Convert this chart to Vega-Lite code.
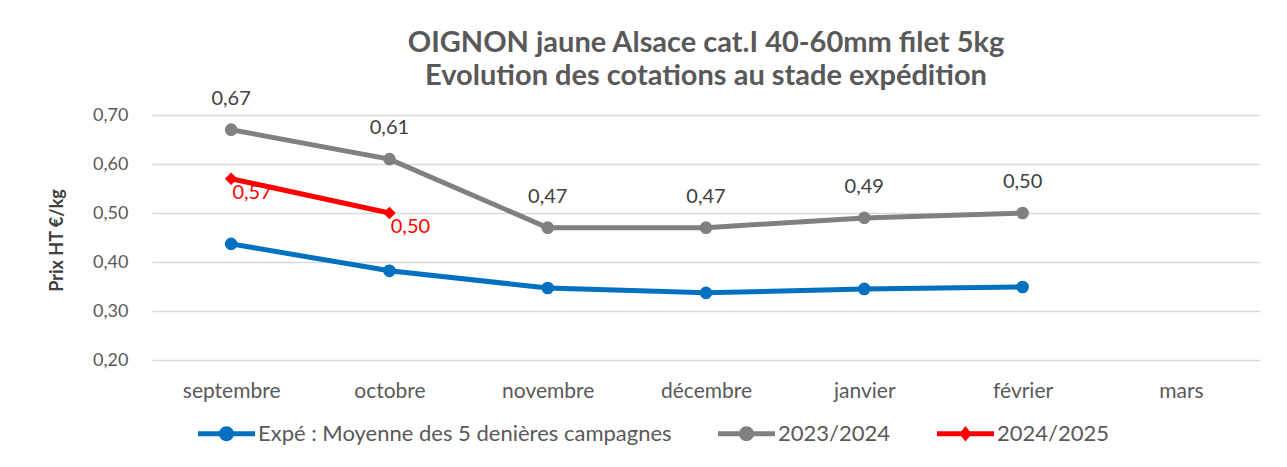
{
  "$schema": "https://vega.github.io/schema/vega-lite/v6.json",
  "width": 1108,
  "height": 245,
  "autosize": {"type": "none"},
  "padding": {"left": 152, "top": 115, "right": 27, "bottom": 107},
  "background": "white",
  "config": {
    "font": "Lato",
    "view": {"stroke": null},
    "locale": {"number": {"decimal": ",", "thousands": "\u00a0", "grouping": [3], "currency": ["", " €"]}}
  },
  "title": {
    "text": ["OIGNON jaune Alsace cat.I 40-60mm filet 5kg", "Evolution des cotations au stade expédition"],
    "fontSize": 29,
    "fontWeight": "bold",
    "color": "#595959",
    "anchor": "middle",
    "lineHeight": 33,
    "offset": -2
  },
  "resolve": {"legend": {"color": "independent", "shape": "independent"}},
  "data": {
    "values": [
      {"mois": "septembre", "serie": "Expé : Moyenne des 5 denières campagnes", "prix": 0.437},
      {"mois": "octobre", "serie": "Expé : Moyenne des 5 denières campagnes", "prix": 0.382},
      {"mois": "novembre", "serie": "Expé : Moyenne des 5 denières campagnes", "prix": 0.347},
      {"mois": "décembre", "serie": "Expé : Moyenne des 5 denières campagnes", "prix": 0.337},
      {"mois": "janvier", "serie": "Expé : Moyenne des 5 denières campagnes", "prix": 0.345},
      {"mois": "février", "serie": "Expé : Moyenne des 5 denières campagnes", "prix": 0.349},
      {"mois": "septembre", "serie": "2023/2024", "prix": 0.67},
      {"mois": "octobre", "serie": "2023/2024", "prix": 0.61},
      {"mois": "novembre", "serie": "2023/2024", "prix": 0.47},
      {"mois": "décembre", "serie": "2023/2024", "prix": 0.47},
      {"mois": "janvier", "serie": "2023/2024", "prix": 0.49},
      {"mois": "février", "serie": "2023/2024", "prix": 0.50},
      {"mois": "septembre", "serie": "2024/2025", "prix": 0.57},
      {"mois": "octobre", "serie": "2024/2025", "prix": 0.50}
    ]
  },
  "encoding": {
    "x": {
      "field": "mois",
      "type": "nominal",
      "sort": null,
      "scale": {"domain": ["septembre", "octobre", "novembre", "décembre", "janvier", "février", "mars"], "paddingInner": 0, "paddingOuter": 0},
      "axis": {
        "title": null,
        "labelAngle": 0,
        "labelFontSize": 21,
        "labelColor": "#595959",
        "labelPadding": 20,
        "ticks": false,
        "domain": false,
        "grid": false
      }
    },
    "y": {
      "field": "prix",
      "type": "quantitative",
      "scale": {"domain": [0.2, 0.7], "nice": false, "zero": false},
      "axis": {
        "title": "Prix HT €/kg",
        "titleFontSize": 18,
        "titleFontWeight": "bold",
        "titleColor": "#404040",
        "titleX": -86,
        "titleY": 125,
        "values": [0.2, 0.3, 0.4, 0.5, 0.6, 0.7],
        "format": ".2f",
        "labelFontSize": 18,
        "labelColor": "#595959",
        "labelPadding": 24,
        "ticks": false,
        "domain": false,
        "grid": true,
        "gridColor": "#d9d9d9",
        "gridWidth": 1.5
      }
    },
    "color": {
      "field": "serie",
      "type": "nominal",
      "scale": {
        "domain": ["Expé : Moyenne des 5 denières campagnes", "2023/2024", "2024/2025"],
        "range": ["#0070C0", "#808080", "#FF0000"]
      },
      "legend": null
    }
  },
  "layer": [
    {
      "mark": {"type": "line", "strokeWidth": 5, "interpolate": "linear"}
    },
    {
      "transform": [{"filter": "datum.serie != '2024/2025'"}],
      "mark": {"type": "point", "shape": "circle", "filled": true, "opacity": 1, "size": 160}
    },
    {
      "transform": [{"filter": "datum.serie == '2024/2025'"}],
      "mark": {"type": "point", "shape": "diamond", "filled": true, "opacity": 1, "size": 160}
    },
    {
      "transform": [{"filter": "datum.serie == '2023/2024'"}],
      "mark": {"type": "text", "dy": -31, "fontSize": 20},
      "encoding": {
        "text": {"field": "prix", "type": "quantitative", "format": ".2f"},
        "color": {"value": "#404040"}
      }
    },
    {
      "transform": [{"filter": "datum.serie == '2024/2025'"}],
      "mark": {"type": "text", "dx": 21, "dy": 14, "fontSize": 20},
      "encoding": {
        "text": {"field": "prix", "type": "quantitative", "format": ".2f"},
        "color": {"value": "#FF0000"}
      }
    },
    {
      "transform": [{"filter": "false"}],
      "mark": {"type": "point", "filled": true, "opacity": 1, "size": 3249},
      "encoding": {
        "color": {
          "field": "serie",
          "type": "nominal",
          "scale": {
            "domain": ["Expé : Moyenne des 5 denières campagnes", "2023/2024", "2024/2025"],
            "range": ["#0070C0", "#808080", "#FF0000"]
          },
          "legend": {
            "title": null,
            "orient": "none",
            "direction": "horizontal",
            "legendX": 46,
            "legendY": 290,
            "labelFontSize": 22,
            "labelColor": "#595959",
            "labelOffset": 3,
            "labelLimit": 600,
            "columnPadding": 46,
            "symbolSize": 3249,
            "symbolStrokeWidth": 0,
            "symbolOpacity": 1
          }
        },
        "shape": {
          "field": "serie",
          "type": "nominal",
          "scale": {
            "domain": ["Expé : Moyenne des 5 denières campagnes", "2023/2024", "2024/2025"],
            "range": [
              "M-1,-0.09H1V0.09H-1Z M0.26,0A0.26,0.26,0,1,1,-0.26,0A0.26,0.26,0,1,1,0.26,0Z",
              "M-1,-0.09H1V0.09H-1Z M0.26,0A0.26,0.26,0,1,1,-0.26,0A0.26,0.26,0,1,1,0.26,0Z",
              "M-1,-0.09H1V0.09H-1Z M0,-0.27L0.22,0L0,0.27L-0.22,0Z"
            ]
          },
          "legend": {
            "title": null,
            "orient": "none",
            "direction": "horizontal",
            "legendX": 46,
            "legendY": 290,
            "labelFontSize": 22,
            "labelColor": "#595959",
            "labelOffset": 3,
            "labelLimit": 600,
            "columnPadding": 46,
            "symbolSize": 3249,
            "symbolStrokeWidth": 0,
            "symbolOpacity": 1
          }
        }
      }
    }
  ]
}
